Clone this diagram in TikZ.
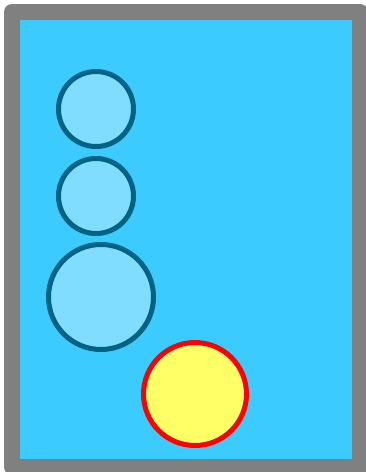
\documentclass[tikz,border=0pt]{standalone}
\usepackage{xcolor}
\usepackage{tikz}
\usetikzlibrary{positioning}

\definecolor{tankblue}{HTML}{3CCBFF}
\definecolor{bubblefill}{HTML}{80DDFF}
\definecolor{bubbleedge}{HTML}{006384}
\definecolor{ballfill}{HTML}{FFFF66}

\begin{document}
\begin{tikzpicture}[
  x=1pt, y=-1pt,
  tank/.style={draw=gray, fill=tankblue, line width=16pt, line join=round},
  bubble/.style={circle, draw=bubbleedge, fill=bubblefill, line width=5pt,
                 inner sep=0pt, minimum size=75pt},
  ball/.style={circle, draw=red, fill=ballfill, line width=5pt,
               inner sep=0pt, minimum size=103pt},
]
\useasboundingbox (0,0) rectangle (366,472);
% tank with water
\draw[tank] (12,12) rectangle (360,467);
% bubbles rising on the left
\node[bubble] (bubbleA) at (96,109) {};
\node[bubble] (bubbleB) at (96,196) {};
\node[bubble, minimum size=105pt] (bubbleC) at (101,297) {};
% the ball near the bottom
\node[ball] (ball) at (195,394) {};
\end{tikzpicture}
\end{document}
